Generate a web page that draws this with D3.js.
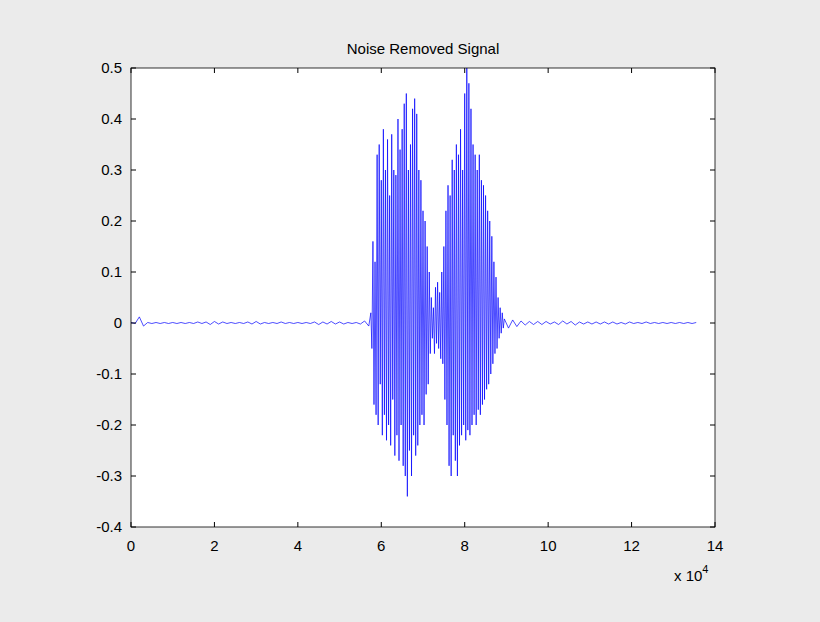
<!DOCTYPE html>
<html><head><meta charset="utf-8">
<script src="https://cdn.jsdelivr.net/npm/d3@7"></script>
<style>body{margin:0;background:#ebebeb}text{font-family:"Liberation Sans",Arial,sans-serif}</style>
</head><body>
<svg id="c" width="820" height="622"></svg>
<script>
const title = "Noise Removed  Signal";
const xTicks = [0,2,4,6,8,10,12,14];
const yTicks = [-0.4,-0.3,-0.2,-0.1,0,0.1,0.2,0.3,0.4,0.5];
// segments: start x (x10^4), step, values
const noise1 = {start:0, step:0.1, values:[0.001,-0.001,0.012,-0.006,0.001,-0.001,0.001,-0.001,0.001,-0.001,0.001,-0.001,0.001,-0.001,0.001,-0.001,0.002,-0.001,0.002,-0.003,0.003,-0.002,0.002,-0.001,0.001,-0.001,0.001,-0.001,0.002,-0.002,0.003,-0.002,0.001,-0.001,0.001,-0.001,0.002,-0.001,0.001,-0.001,0.001,-0.001,0.001,-0.001,0.002,-0.003,0.002,-0.002,0.003,-0.002,0.002,-0.002,0.001,-0.001,0.001,-0.002,0.004,-0.006]};
const burst1 = {start:5.75, step:0.025, values:[0.02,-0.05,0.16,-0.16,0.12,-0.18,0.33,-0.2,0.35,-0.12,0.28,-0.22,0.38,-0.18,0.3,-0.23,0.36,-0.2,0.25,-0.24,0.37,-0.15,0.3,-0.26,0.29,-0.22,0.4,-0.27,0.34,-0.2,0.38,-0.28,0.43,-0.3,0.45,-0.34,0.3,-0.25,0.35,-0.3,0.42,-0.22,0.44,-0.26,0.41,-0.24,0.3,-0.2,0.28,-0.18,0.22,-0.2,0.2,-0.14,0.15,-0.12,0.1,-0.06,0.05,-0.03]};
const gap = {start:7.25, step:0.025, values:[0.03,-0.06,0.07,-0.04,0.08,-0.05,0.06,-0.07,0.1,-0.08]};
const burst2 = {start:7.5, step:0.025, values:[0.15,-0.15,0.22,-0.2,0.27,-0.28,0.25,-0.3,0.32,-0.22,0.3,-0.27,0.35,-0.3,0.33,-0.24,0.38,-0.22,0.3,-0.2,0.45,-0.23,0.5,-0.21,0.47,-0.22,0.42,-0.2,0.35,-0.18,0.33,-0.2,0.3,-0.17,0.33,-0.18,0.28,-0.16,0.27,-0.15,0.25,-0.13,0.22,-0.12,0.2,-0.1,0.17,-0.08,0.12,-0.06,0.09,-0.05,0.05,-0.03,0.03,-0.02,0.02,-0.01]};
const noise2 = {start:8.95, step:0.1, values:[0.008,-0.01,0.006,-0.007,0.004,-0.004,0.003,-0.003,0.003,-0.003,0.003,-0.002,0.002,-0.003,0.004,-0.002,0.003,-0.004,0.002,-0.002,0.002,-0.002,0.002,-0.002,0.002,-0.002,0.002,-0.002,0.001,-0.002,0.002,-0.001,0.001,-0.001,0.002,-0.001,0.001,-0.001,0.001,-0.001,0.001,-0.001,0.001,-0.001,0.001,-0.001,0.001]};

const segs=[noise1,burst1,gap,burst2,noise2];
const pts=[];
segs.forEach(s=>s.values.forEach((v,i)=>pts.push([s.start+i*s.step,v])));

const svg=d3.select("#c");
const L=131,R=715,T=68,B=527;
const x=d3.scaleLinear().domain([0,14]).range([L,R]);
const y=d3.scaleLinear().domain([-0.4,0.5]).range([B,T]);
svg.append("rect").attr("x",L).attr("y",T).attr("width",R-L).attr("height",B-T).attr("fill","#fff");
svg.append("path").datum(pts).attr("fill","none").attr("stroke","#0000ff").attr("stroke-width",0.7)
 .attr("d",d3.line().x(d=>x(d[0])).y(d=>y(d[1])));
const g=svg.append("g");
g.append("rect").attr("x",L).attr("y",T).attr("width",R-L).attr("height",B-T).attr("fill","none").attr("stroke","#000").attr("stroke-width",0.8);
xTicks.forEach(t=>{
 g.append("line").attr("x1",x(t)).attr("x2",x(t)).attr("y1",B).attr("y2",B-5).attr("stroke","#000");
 g.append("line").attr("x1",x(t)).attr("x2",x(t)).attr("y1",T).attr("y2",T+5).attr("stroke","#000");
 g.append("text").attr("x",x(t)).attr("y",B+24).attr("text-anchor","middle").attr("font-size",15).text(t);
});
yTicks.forEach(t=>{
 g.append("line").attr("x1",L).attr("x2",L+5).attr("y1",y(t)).attr("y2",y(t)).attr("stroke","#000");
 g.append("line").attr("x1",R).attr("x2",R-5).attr("y1",y(t)).attr("y2",y(t)).attr("stroke","#000");
 g.append("text").attr("x",L-9).attr("y",y(t)+5).attr("text-anchor","end").attr("font-size",15).text(String(+t.toFixed(1)));
});
svg.append("text").attr("x",(L+R)/2).attr("y",54).attr("text-anchor","middle").attr("font-size",15).text(title);
const e=svg.append("text").attr("x",674).attr("y",581).attr("font-size",15);
e.append("tspan").text("x 10");
e.append("tspan").attr("font-size",11).attr("dy",-8).text("4");
</script></body></html>
